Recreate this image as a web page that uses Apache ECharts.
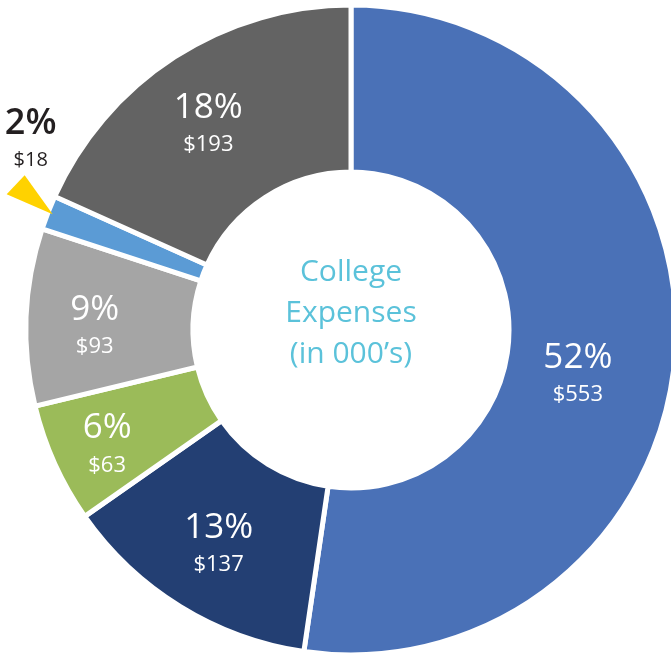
<!DOCTYPE html>
<html>
<head>
<meta charset="utf-8">
<script src="https://cdn.jsdelivr.net/npm/echarts@6/dist/echarts.min.js"></script>
<style>
html,body{margin:0;padding:0;background:#fff;}
#c{width:671px;height:654px;}
</style>
</head>
<body>
<div id="c"></div>
<script>
const categories = ['Segment A', 'Segment B', 'Segment C', 'Segment D', 'Segment E', 'Segment F'];
const values = [553, 137, 63, 93, 18, 193];
const valueLabels = ['$553', '$137', '$63', '$93', '$18', '$193'];
const colors = ['#4A71B7', '#233F73', '#9BBB59', '#A5A5A5', '#5B9BD5', '#636363'];
const centerLines = ['College', 'Expenses', '(in 000\u2019s)'];
// label nudges (style only)
const labelShift = [[-17, 25], [-4, 5], [-21, 13], [-12, 5], [0, 0], [-10, -2]];

const CX = 351, CY = 330, R = 325, R0 = 158;
const FONT = '"Open Sans", Roboto, sans-serif';

const total = values.reduce((a, b) => a + b, 0);
let acc = 0;
for (let i = 0; i < 4; i++) acc += values[i];
const midFrac = (acc + values[4] / 2) / total;
const ang = midFrac * 2 * Math.PI;
const visR = R - 5;
const tip = { x: CX + visR * Math.sin(ang), y: CY - visR * Math.cos(ang) };

const chart = echarts.init(document.getElementById('c'), null, { renderer: 'canvas' });

const richWhite = {
  p: { fontSize: 35, fontWeight: 500, color: '#ffffff', lineHeight: 44, fontFamily: FONT },
  v: { fontSize: 22, color: '#ffffff', lineHeight: 30, fontFamily: FONT }
};
const richDark = {
  p: { fontSize: 36, fontWeight: 600, color: '#231F20', lineHeight: 44, fontFamily: FONT },
  v: { fontSize: 20, color: '#231F20', lineHeight: 30, fontFamily: FONT }
};

const data = categories.map((name, i) => {
  const item = { name: name, value: values[i], itemStyle: { color: colors[i] } };
  if (i === 4) {
    item.label = { position: 'outside', color: '#231F20', rich: richDark };
    item.labelLine = { show: false };
  }
  return item;
});

chart.setOption({
  animation: false,
  backgroundColor: '#ffffff',
  graphic: [
    {
      type: 'polygon',
      shape: { points: [[tip.x, tip.y], [tip.x - 46, tip.y - 20], [tip.x - 28, tip.y - 39]] },
      style: { fill: '#FFD200' },
      z: 10
    },
    {
      type: 'text',
      x: CX, y: CY - 17,
      style: {
        text: centerLines.join('\n'),
        fill: '#5BC2DA',
        font: '400 30px ' + FONT,
        lineHeight: 41,
        align: 'center',
        verticalAlign: 'middle'
      },
      z: 10
    }
  ],
  series: [{
    type: 'pie',
    center: [CX, CY],
    radius: [R0, R],
    startAngle: 90,
    clockwise: true,
    avoidLabelOverlap: false,
    itemStyle: { borderColor: '#ffffff', borderWidth: 5 },
    label: {
      show: true,
      position: 'inside',
      color: '#ffffff',
      formatter: function (p) {
        return '{p|' + Math.round(p.percent) + '%}\n{v|' + valueLabels[p.dataIndex] + '}';
      },
      rich: richWhite
    },
    labelLine: { show: false },
    labelLayout: function (params) {
      const i = params.dataIndex;
      if (i === 4) {
        return { x: tip.x - 22, y: tip.y - 76, align: 'center', verticalAlign: 'middle' };
      }
      return { dx: labelShift[i][0], dy: labelShift[i][1] };
    },
    emphasis: { disabled: true },
    data: data
  }]
});
</script>
</body>
</html>
